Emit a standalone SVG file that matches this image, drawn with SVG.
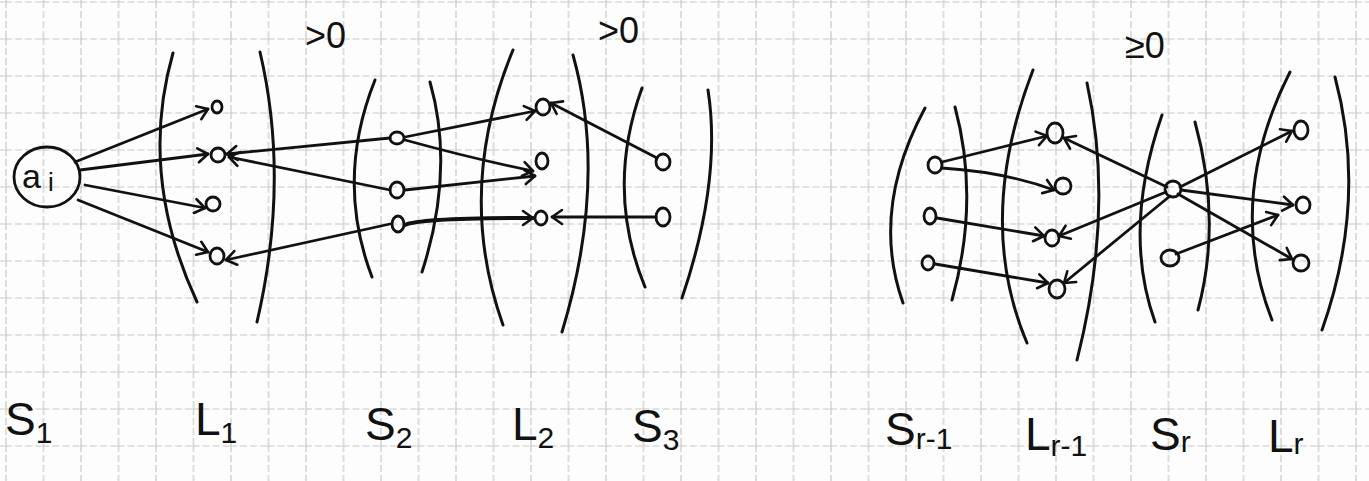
<svg xmlns="http://www.w3.org/2000/svg" width="1369" height="481" viewBox="0 0 1369 481">
<style>
.ln{fill:none;stroke:#111;stroke-width:2.8;stroke-linecap:round;stroke-linejoin:round}
.br{fill:none;stroke:#111;stroke-width:3;stroke-linecap:round}
.nd{fill:none;stroke:#111;stroke-width:2.8}
.lbl{font-family:"Liberation Sans",Arial,sans-serif;font-size:46px;fill:#111}
.sub{font-size:30px}
.top{font-family:"Liberation Sans",Arial,sans-serif;font-size:36px;fill:#111}
</style>
<defs>
<pattern id="grid" patternUnits="userSpaceOnUse" x="5" y="1" width="37.5" height="37">
<path d="M1,0 V37 M0,1 H37.5" stroke="#c8c8c8" stroke-width="1.2" stroke-dasharray="7 3" fill="none"/>
</pattern>
<marker id="ah" viewBox="-12 -9 14 18" refX="0" refY="0" markerWidth="14" markerHeight="18" markerUnits="userSpaceOnUse" orient="auto">
<path d="M-10,-7 L0,0 L-10,7" fill="none" stroke="#111" stroke-width="2.6" stroke-linecap="round" stroke-linejoin="round"/>
</marker>
</defs>
<rect width="1369" height="481" fill="#fdfdfd"/>
<rect width="1369" height="481" fill="url(#grid)"/>

<g id="brackets">
<path class="br" d="M173,53 Q138,175 197,302"/>
<path class="br" d="M260,52 Q290,180 257,322"/>
<path class="br" d="M375,80 Q335,180 372,277"/>
<path class="br" d="M430,82 Q455,170 422,272"/>
<path class="br" d="M513,50 Q455,190 503,325"/>
<path class="br" d="M573,55 Q608,180 562,332"/>
<path class="br" d="M642,88 Q605,190 645,287"/>
<path class="br" d="M708,90 Q722,180 682,298"/>
<path class="br" d="M925,108 Q870,210 903,303"/>
<path class="br" d="M955,107 Q980,200 952,300"/>
<path class="br" d="M1033,70 Q975,220 1027,343"/>
<path class="br" d="M1087,83 Q1115,210 1077,360"/>
<path class="br" d="M1162,115 Q1122,230 1155,322"/>
<path class="br" d="M1195,122 Q1222,220 1198,310"/>
<path class="br" d="M1290,72 Q1225,200 1272,320"/>
<path class="br" d="M1335,77 Q1368,200 1322,330"/>
</g>

<g id="connectors">
<path class="ln" marker-end="url(#ah)" d="M75,162 L208,109"/>
<path class="ln" marker-end="url(#ah)" d="M80,170 L208,154"/>
<path class="ln" marker-end="url(#ah)" d="M85,185 L205,208"/>
<path class="ln" marker-end="url(#ah)" d="M78,200 L208,252"/>
<path class="ln" marker-end="url(#ah)" d="M390,138 L227,154"/>
<path class="ln" marker-end="url(#ah)" d="M390,190 L229,157"/>
<path class="ln" marker-end="url(#ah)" d="M390,224 L226,260"/>
<path class="ln" marker-end="url(#ah)" d="M405,137 L535,111"/>
<path class="ln" marker-end="url(#ah)" d="M405,140 Q470,158 533,171"/>
<path class="ln" marker-end="url(#ah)" d="M405,190 L535,176"/>
<path class="ln" marker-end="url(#ah)" style="stroke-width:4" d="M405,225 Q420,218 533,218"/>
<path class="ln" marker-end="url(#ah)" d="M657,158 L551,103"/>
<path class="ln" marker-end="url(#ah)" d="M656,217 L552,217"/>

<path class="ln" marker-end="url(#ah)" d="M942,162 L1047,136"/>
<path class="ln" marker-end="url(#ah)" d="M942,168 Q1005,172 1054,190"/>
<path class="ln" marker-end="url(#ah)" d="M937,218 L1044,236"/>
<path class="ln" marker-end="url(#ah)" d="M935,264 L1048,283"/>
<path class="ln" marker-end="url(#ah)" d="M1167,187 L1064,138"/>
<path class="ln" marker-end="url(#ah)" d="M1166,192 L1059,236"/>
<path class="ln" marker-end="url(#ah)" d="M1170,196 L1064,283"/>
<path class="ln" marker-end="url(#ah)" d="M1180,187 L1292,131"/>
<path class="ln" marker-end="url(#ah)" d="M1181,190 L1293,205"/>
<path class="ln" marker-end="url(#ah)" d="M1178,194 L1292,259"/>
<path class="ln" marker-end="url(#ah)" d="M1176,254 L1278,215"/>
</g>

<g id="node-ai">
<ellipse class="nd" cx="47" cy="177" rx="33" ry="30"/>
<text x="22" y="188" font-family="Liberation Sans,Arial,sans-serif" font-size="34" fill="#111">a<tspan font-size="26" dx="7" dy="3">i</tspan></text>
</g>
<g id="nodes-L1">
<ellipse class="nd" cx="217" cy="107" rx="5" ry="6"/>
<ellipse class="nd" cx="218" cy="155" rx="7" ry="7"/>
<ellipse class="nd" cx="213" cy="204" rx="7" ry="7"/>
<ellipse class="nd" cx="217" cy="256" rx="7" ry="8"/>
</g>
<g id="nodes-S2">
<ellipse class="nd" cx="397" cy="138" rx="7" ry="6"/>
<ellipse class="nd" cx="397" cy="190" rx="7" ry="8"/>
<ellipse class="nd" cx="398" cy="224" rx="6" ry="8"/>
</g>
<g id="nodes-L2">
<ellipse class="nd" cx="543" cy="107" rx="7" ry="8"/>
<ellipse class="nd" cx="542" cy="161" rx="6" ry="8"/>
<ellipse class="nd" cx="541" cy="218" rx="6" ry="7"/>
</g>
<g id="nodes-S3">
<ellipse class="nd" cx="663" cy="162" rx="7" ry="8"/>
<ellipse class="nd" cx="663" cy="217" rx="7" ry="9"/>
</g>
<g id="nodes-Sr-1">
<ellipse class="nd" cx="935" cy="165" rx="7" ry="8"/>
<ellipse class="nd" cx="930" cy="216" rx="6" ry="8"/>
<ellipse class="nd" cx="928" cy="263" rx="6" ry="7"/>
</g>
<g id="nodes-Lr-1">
<ellipse class="nd" cx="1055" cy="133" rx="8" ry="10"/>
<ellipse class="nd" cx="1063" cy="186" rx="8" ry="8"/>
<ellipse class="nd" cx="1052" cy="238" rx="7" ry="8"/>
<ellipse class="nd" cx="1057" cy="289" rx="8" ry="9"/>
</g>
<g id="nodes-Sr">
<ellipse class="nd" cx="1173" cy="189" rx="8" ry="8"/>
<ellipse class="nd" cx="1170" cy="258" rx="9" ry="8"/>
</g>
<g id="nodes-Lr">
<ellipse class="nd" cx="1301" cy="130" rx="7" ry="9"/>
<ellipse class="nd" cx="1303" cy="205" rx="7" ry="8"/>
<ellipse class="nd" cx="1301" cy="263" rx="8" ry="8"/>
</g>

<g id="annotations">
<text class="top" x="305" y="48">&gt;0</text>
<text class="top" x="598" y="43">&gt;0</text>
<text class="top" x="1125" y="58">≥0</text>
</g>
<g id="labels">
<text class="lbl" x="5" y="435">S<tspan class="sub" dy="8">1</tspan></text>
<text class="lbl" x="195" y="435">L<tspan class="sub" dy="8">1</tspan></text>
<text class="lbl" x="365" y="440">S<tspan class="sub" dy="8">2</tspan></text>
<text class="lbl" x="512" y="440">L<tspan class="sub" dy="8">2</tspan></text>
<text class="lbl" x="632" y="442">S<tspan class="sub" dy="8">3</tspan></text>
<text class="lbl" x="885" y="445">S<tspan class="sub" dy="4">r-1</tspan></text>
<text class="lbl" x="1025" y="450">L<tspan class="sub" dy="6">r-1</tspan></text>
<text class="lbl" x="1150" y="450">S<tspan class="sub" dy="2">r</tspan></text>
<text class="lbl" x="1268" y="452">L<tspan class="sub" dy="2">r</tspan></text>
</g>
</svg>
